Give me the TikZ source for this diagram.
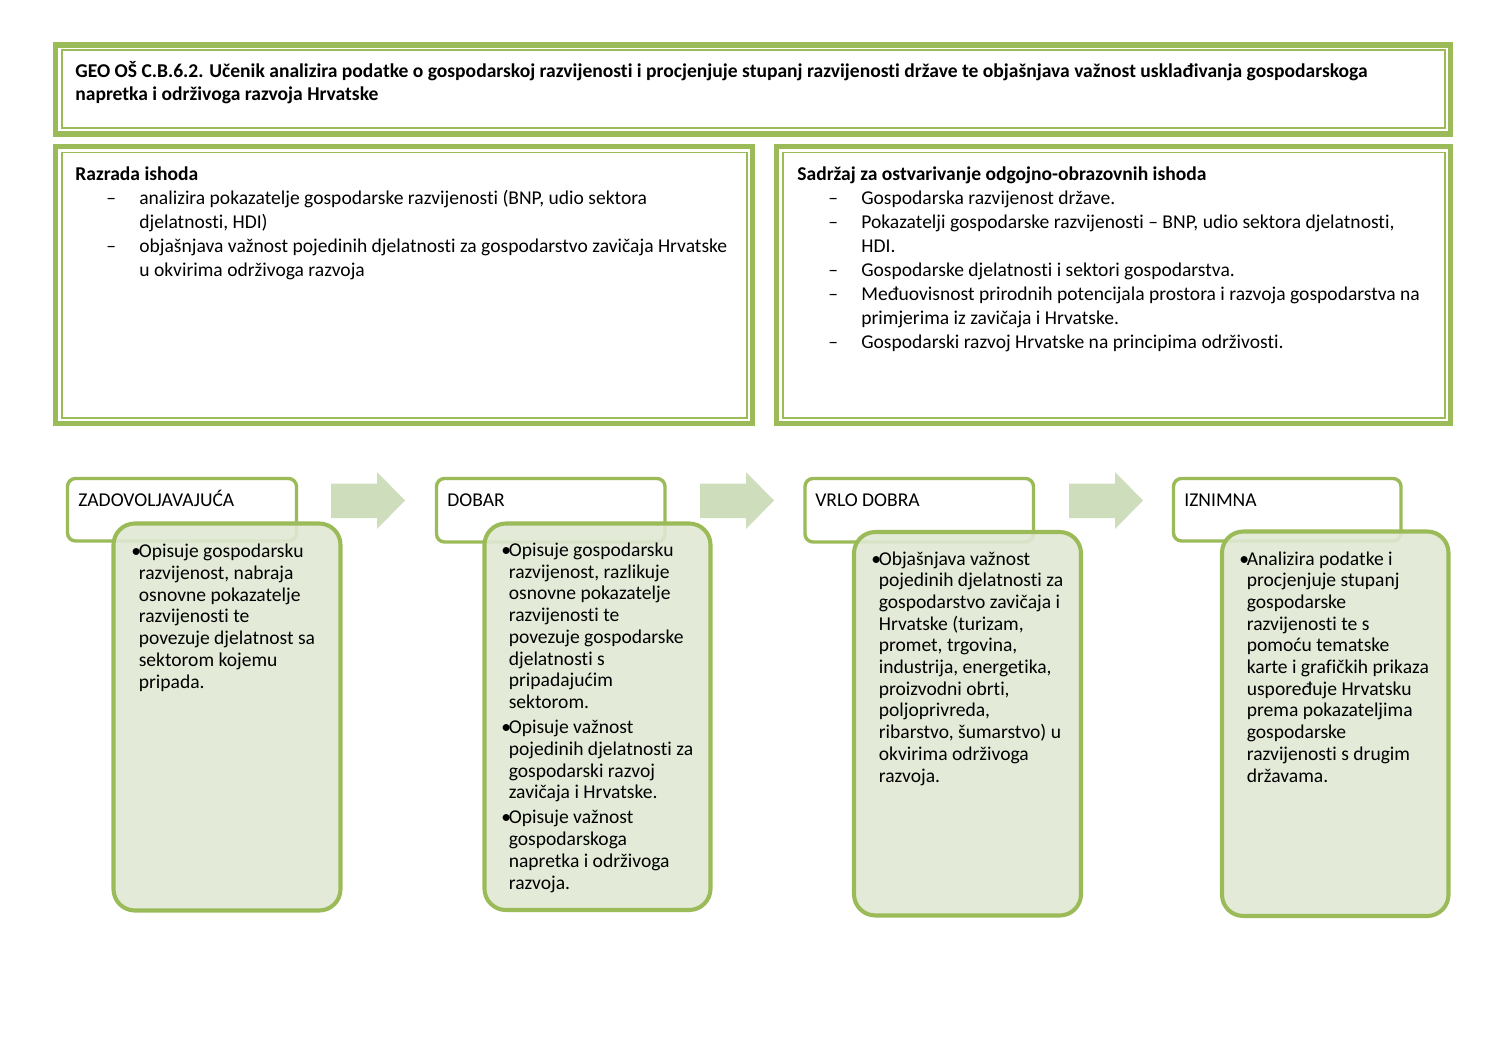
\documentclass[tikz,border=0pt]{standalone}
\usepackage{fontspec}
\setmainfont{Carlito}[Ligatures=NoCommon]
\usetikzlibrary{positioning}
\definecolor{olivegreen}{HTML}{9BBB59}
\definecolor{palegreen}{HTML}{E0E8D4}
\definecolor{arrowgreen}{HTML}{CEDDBB}
\newcommand{\crt}{\makebox[18.6pt][l]{--}}
\newcommand{\bul}{\makebox[4.2pt][l]{\textbullet}}
\newcommand{\ind}{\hspace*{4.2pt}}
\tikzset{
  outerline/.style={draw=olivegreen, line width=3pt},
  innerline/.style={draw=olivegreen, line width=1.1pt},
  levelbox/.style={draw=olivegreen, line width=1.9pt, rounded corners=4.5pt, fill=white},
  detailbox/.style={draw=olivegreen, line width=2.3pt, rounded corners=12pt, fill=palegreen, fill opacity=0.9},
  steparrow/.style={fill=arrowgreen},
  bodytext/.style={anchor=base west, inner sep=0pt, align=left, font=\fontsize{11}{13.5}\selectfont},
  leveltext/.style={anchor=base west, inner sep=0pt, font=\fontsize{11}{13.5}\selectfont},
  detailtext/.style={anchor=base west, inner sep=0pt, align=left, font=\fontsize{11}{12.2}\selectfont}
}
\begin{document}
\begin{tikzpicture}[x=0.5625pt, y=-0.5625pt]
\useasboundingbox (0,0) rectangle (1497,1058);
% okviri gore
\draw[outerline] (55.8,45) rectangle (1450.5,134);
\draw[innerline] (61.7,50.3) rectangle (1444.8,127.7);
\draw[outerline] (55.8,146.3) rectangle (752.5,423.3);
\draw[innerline] (61.7,152.5) rectangle (747,417.7);
\draw[outerline] (776.7,146.3) rectangle (1450.5,423.3);
\draw[innerline] (782.7,152.5) rectangle (1445.2,417.7);

% tekst se sidri na zadnji redak
\node[bodytext, font=\fontsize{11}{13}\selectfont\bfseries] (title) at (75,101)
  {GEO OŠ C.B.6.2. Učenik analizira podatke o gospodarskoj razvijenosti i procjenjuje stupanj razvijenosti države te objašnjava važnost usklađivanja gospodarskoga\\
   napretka i održivoga razvoja Hrvatske};
\node[bodytext] (razrada) at (75,277)
  {\textbf{Razrada ishoda}\\
   \hspace*{17.4pt}\crt analizira pokazatelje gospodarske razvijenosti (BNP, udio sektora\\
   \hspace*{36pt}djelatnosti, HDI)\\
   \hspace*{17.4pt}\crt objašnjava važnost pojedinih djelatnosti za gospodarstvo zavičaja Hrvatske\\
   \hspace*{36pt}u okvirima održivoga razvoja};
\node[bodytext] (sadrzaj) at (797,348.5)
  {\textbf{Sadržaj za ostvarivanje odgojno-obrazovnih ishoda}\\
   \hspace*{17.4pt}\crt Gospodarska razvijenost države.\\
   \hspace*{17.4pt}\crt Pokazatelji gospodarske razvijenosti -- BNP, udio sektora djelatnosti,\\
   \hspace*{36pt}HDI.\\
   \hspace*{17.4pt}\crt Gospodarske djelatnosti i sektori gospodarstva.\\
   \hspace*{17.4pt}\crt Međuovisnost prirodnih potencijala prostora i razvoja gospodarstva na\\
   \hspace*{36pt}primjerima iz zavičaja i Hrvatske.\\
   \hspace*{17.4pt}\crt Gospodarski razvoj Hrvatske na principima održivosti.};

% strelice
\fill[steparrow] (331,483.5) -- (377,483.5) -- (377,472) -- (405,500.5) -- (377,529) -- (377,518) -- (331,518) -- cycle;
\fill[steparrow] (700,483.5) -- (746,483.5) -- (746,472) -- (774,500.5) -- (746,529) -- (746,518) -- (700,518) -- cycle;
\fill[steparrow] (1069,483.5) -- (1115,483.5) -- (1115,472) -- (1143,500.5) -- (1115,529) -- (1115,518) -- (1069,518) -- cycle;

% razine
\draw[levelbox] (67.5,478.5) rectangle (296.5,541);
\draw[detailbox] (113.5,523.5) rectangle (340.5,910.5);
\node[leveltext] (zad) at (78,506) {ZADOVOLJAVAJUĆA};
\node[detailtext] (zadtxt) at (131,688)
  {\bul Opisuje gospodarsku\\
   \ind razvijenost, nabraja\\
   \ind osnovne pokazatelje\\
   \ind razvijenosti te\\
   \ind povezuje djelatnost sa\\
   \ind sektorom kojemu\\
   \ind pripada.};

\draw[levelbox] (436.5,478.5) rectangle (665,542);
\draw[detailbox] (484.5,523.5) rectangle (710.5,910);
\node[leveltext] (dob) at (447,506) {DOBAR};
\node[detailtext] (dobtxt) at (501,889)
  {\bul Opisuje gospodarsku\\
   \ind razvijenost, razlikuje\\
   \ind osnovne pokazatelje\\
   \ind razvijenosti te\\
   \ind povezuje gospodarske\\
   \ind djelatnosti s\\
   \ind pripadajućim\\
   \ind sektorom.\\[2pt]
   \bul Opisuje važnost\\
   \ind pojedinih djelatnosti za\\
   \ind gospodarski razvoj\\
   \ind zavičaja i Hrvatske.\\[2pt]
   \bul Opisuje važnost\\
   \ind gospodarskoga\\
   \ind napretka i održivoga\\
   \ind razvoja.};

\draw[levelbox] (805,478.5) rectangle (1033.5,542);
\draw[detailbox] (854,532) rectangle (1081,915.5);
\node[leveltext] (vrlo) at (815,506) {VRLO DOBRA};
\node[detailtext] (vrlotxt) at (871,782)
  {\bul Objašnjava važnost\\
   \ind pojedinih djelatnosti za\\
   \ind gospodarstvo zavičaja i\\
   \ind Hrvatske (turizam,\\
   \ind promet, trgovina,\\
   \ind industrija, energetika,\\
   \ind proizvodni obrti,\\
   \ind poljoprivreda,\\
   \ind ribarstvo, šumarstvo) u\\
   \ind okvirima održivoga\\
   \ind razvoja.};

\draw[levelbox] (1173.5,478.5) rectangle (1401,541);
\draw[detailbox] (1222,531.5) rectangle (1448.5,916);
\node[leveltext] (izn) at (1184,506) {IZNIMNA};
\node[detailtext] (izntxt) at (1239,782)
  {\bul Analizira podatke i\\
   \ind procjenjuje stupanj\\
   \ind gospodarske\\
   \ind razvijenosti te s\\
   \ind pomoću tematske\\
   \ind karte i grafičkih prikaza\\
   \ind uspoređuje Hrvatsku\\
   \ind prema pokazateljima\\
   \ind gospodarske\\
   \ind razvijenosti s drugim\\
   \ind državama.};
\end{tikzpicture}
\end{document}
